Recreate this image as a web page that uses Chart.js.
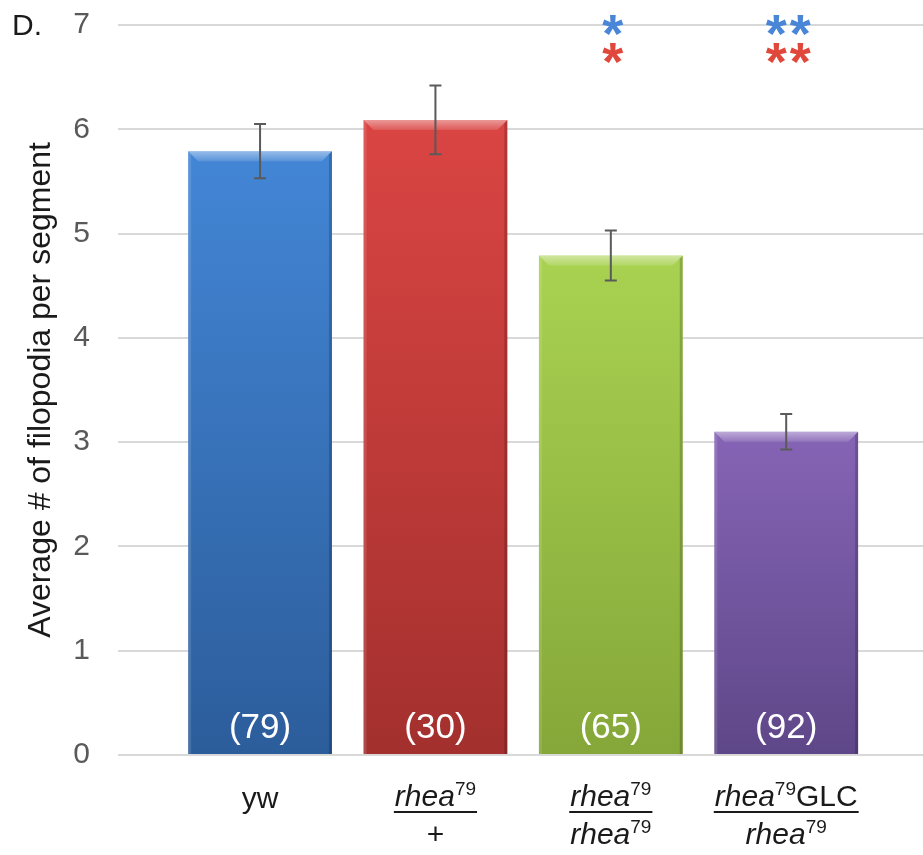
<!DOCTYPE html>
<html><head><meta charset="utf-8">
<script src="https://cdn.jsdelivr.net/npm/chart.js@4.4.0/dist/chart.umd.min.js"></script>
<style>html,body{margin:0;padding:0;background:#fff;} #wrap{width:923px;height:855px;position:relative;}</style>
</head><body><div id="wrap"><canvas id="c" width="923" height="855"></canvas></div>
<script>
// ---------- data ----------
const categories = ['yw', 'rhea79/+', 'rhea79/rhea79', 'rhea79GLC/rhea79'];
const labelNumerators = [
  [{t:'yw'}],
  [{t:'rhea', it:true},{t:'79', sup:true}],
  [{t:'rhea', it:true},{t:'79', sup:true}],
  [{t:'rhea', it:true},{t:'79', sup:true},{t:'GLC'}]
];
const labelDenominators = [
  null,
  [{t:'+'}],
  [{t:'rhea', it:true},{t:'79', sup:true}],
  [{t:'rhea', it:true},{t:'79', sup:true}]
];
const meanFilopodia = [5.79, 6.09, 4.79, 3.10];
const semFilopodia = [0.26, 0.33, 0.24, 0.17];
const sampleSizes = ['(79)', '(30)', '(65)', '(92)'];
const sigVsYw = ['', '', '*', '**'];
const sigVsHet = ['', '', '*', '**'];
const yTickValues = [0, 1, 2, 3, 4, 5, 6, 7];
const panelLabel = 'D.';
const yAxisTitle = 'Average # of filopodia per segment';

// ---------- styles ----------
const barTop = ['#4386d6', '#da4543', '#a9d251', '#8664b6'];
const barBottom = ['#2c5d9b', '#a3302e', '#85a739', '#5e4788'];
const FONT = "'Liberation Sans', Arial, sans-serif";

const bevelPlugin = {
  id: 'bevel',
  afterDatasetsDraw(chart) {
    const ctx = chart.ctx;
    chart.getDatasetMeta(0).data.forEach((bar) => {
      const l = bar.x - bar.width / 2, r = bar.x + bar.width / 2, t = bar.y, b = bar.base;
      const bv = 10, sv = 3;
      ctx.save();
      ctx.beginPath();
      ctx.moveTo(l, t); ctx.lineTo(r, t); ctx.lineTo(r - bv, t + bv); ctx.lineTo(l + bv, t + bv); ctx.closePath();
      const g = ctx.createLinearGradient(0, t, 0, t + bv);
      g.addColorStop(0, 'rgba(255,255,255,0.45)');
      g.addColorStop(1, 'rgba(255,255,255,0.12)');
      ctx.fillStyle = g; ctx.fill();
      ctx.beginPath();
      ctx.moveTo(l, t); ctx.lineTo(l + sv, t + sv); ctx.lineTo(l + sv, b); ctx.lineTo(l, b); ctx.closePath();
      ctx.fillStyle = 'rgba(255,255,255,0.12)'; ctx.fill();
      ctx.beginPath();
      ctx.moveTo(r, t); ctx.lineTo(r - sv, t + sv); ctx.lineTo(r - sv, b); ctx.lineTo(r, b); ctx.closePath();
      ctx.fillStyle = 'rgba(0,0,0,0.18)'; ctx.fill();
      ctx.restore();
    });
  }
};

function segFont(s) {
  return (s.it ? 'italic ' : '') + (s.sup ? 19 : 30) + 'px ' + FONT;
}
function segsWidth(ctx, segs) {
  let w = 0;
  segs.forEach(s => { ctx.font = segFont(s); w += ctx.measureText(s.t).width; });
  return w;
}
function drawSegs(ctx, segs, cx, baseline) {
  const w = segsWidth(ctx, segs);
  let x = cx - w / 2;
  ctx.textAlign = 'left';
  ctx.textBaseline = 'alphabetic';
  segs.forEach(s => {
    ctx.font = segFont(s);
    ctx.fillText(s.t, x, s.sup ? baseline - 11 : baseline);
    x += ctx.measureText(s.t).width;
  });
  return w;
}

const annotPlugin = {
  id: 'annot',
  afterDatasetsDraw(chart) {
    const ctx = chart.ctx;
    const xs = chart.scales.x, ys = chart.scales.y;
    const meta = chart.getDatasetMeta(0);
    ctx.save();
    // error bars
    ctx.strokeStyle = '#5a5a5a';
    ctx.lineWidth = 2;
    meanFilopodia.forEach((m, i) => {
      const x = xs.getPixelForValue(i + 1);
      const yt = ys.getPixelForValue(m + semFilopodia[i]);
      const yb = ys.getPixelForValue(m - semFilopodia[i]);
      ctx.beginPath();
      ctx.moveTo(x, yt); ctx.lineTo(x, yb);
      ctx.moveTo(x - 6, yt); ctx.lineTo(x + 6, yt);
      ctx.moveTo(x - 6, yb); ctx.lineTo(x + 6, yb);
      ctx.stroke();
    });
    // sample sizes
    ctx.fillStyle = '#ffffff';
    ctx.font = '35px ' + FONT;
    ctx.textAlign = 'center';
    ctx.textBaseline = 'alphabetic';
    sampleSizes.forEach((s, i) => {
      const bar = meta.data[i];
      ctx.fillText(s, bar.x, bar.base - 16);
    });
    // x labels
    ctx.fillStyle = '#1a1a1a';
    categories.forEach((c, i) => {
      const cx = xs.getPixelForValue(i + 1);
      const den = labelDenominators[i];
      if (!den) {
        drawSegs(ctx, labelNumerators[i], cx, 808);
      } else {
        const w1 = drawSegs(ctx, labelNumerators[i], cx, 806);
        const w2 = drawSegs(ctx, den, cx, 844);
        const w = Math.max(w1, w2) + 2;
        ctx.fillRect(cx - w / 2, 811, w, 2);
      }
    });
    // significance asterisks
    const drawStars = (str, cx, cy, color) => {
      if (!str) return;
      ctx.fillStyle = color;
      ctx.font = 'bold 54px ' + FONT;
      ctx.textAlign = 'center';
      ctx.textBaseline = 'alphabetic';
      const m = ctx.measureText('*');
      const off = (m.actualBoundingBoxAscent - m.actualBoundingBoxDescent) / 2;
      const n = str.length, sp = 24;
      for (let k = 0; k < n; k++) {
        ctx.fillText(str[k], cx + (k - (n - 1) / 2) * sp, cy + off);
      }
    };
    categories.forEach((c, i) => {
      const cx = xs.getPixelForValue(i + 1) + 2;
      drawStars(sigVsYw[i], cx, chart.chartArea.top, '#4a86d8');
      drawStars(sigVsHet[i], cx, chart.chartArea.top + 28, '#e0483c');
    });
    // panel label
    ctx.fillStyle = '#1a1a1a';
    ctx.font = '30px ' + FONT;
    ctx.textAlign = 'left';
    ctx.textBaseline = 'alphabetic';
    ctx.fillText(panelLabel, 12, 35);
    ctx.restore();
  }
};

new Chart(document.getElementById('c'), {
  type: 'bar',
  data: {
    datasets: [{
      data: meanFilopodia.map((v, i) => ({x: i + 1, y: v})),
      backgroundColor: (c) => {
        const chart = c.chart;
        if (c.type !== 'data' || !chart.chartArea) return '#888';
        const i = c.dataIndex;
        const ys = chart.scales.y;
        const top = ys.getPixelForValue(c.raw.y), bot = ys.getPixelForValue(0);
        const g = chart.ctx.createLinearGradient(0, top, 0, bot);
        g.addColorStop(0, barTop[i]);
        g.addColorStop(1, barBottom[i]);
        return g;
      },
      borderWidth: 0,
      categoryPercentage: 1,
      barPercentage: 0.82
    }]
  },
  options: {
    responsive: false,
    animation: false,
    devicePixelRatio: 1,
    layout: {padding: {top: 25, bottom: 100, left: 0, right: 0}},
    plugins: {legend: {display: false}, tooltip: {enabled: false}},
    scales: {
      x: {type: 'linear', display: false, offset: false, grid: {offset: false}, min: 0.19, max: 4.78,
          afterBuildTicks: (s) => { s.ticks = categories.map((c, i) => ({value: i + 1})); }},
      y: {
        min: 0, max: 7,
        afterFit: (s) => { s.width = 118; },
        afterBuildTicks: (s) => { s.ticks = yTickValues.map(v => ({value: v})); },
        border: {display: false},
        grid: {color: '#d9d9d9', lineWidth: 2, drawTicks: true, tickLength: 24, tickColor: 'rgba(0,0,0,0)'},
        ticks: {color: '#595959', padding: 4, font: {family: FONT, size: 30}},
        title: {display: true, text: yAxisTitle, color: '#1a1a1a', padding: {top: 22, bottom: 0}, font: {family: FONT, size: 32}}
      }
    }
  },
  plugins: [bevelPlugin, annotPlugin]
});
</script>
</body></html>
